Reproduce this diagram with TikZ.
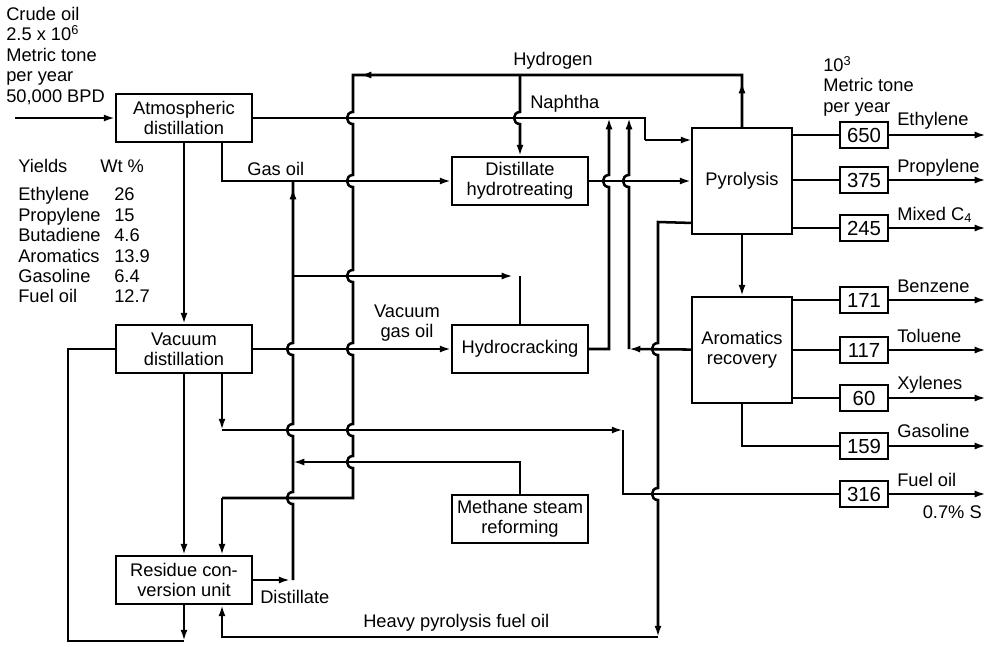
\documentclass[tikz,border=0pt]{standalone}
\usepackage{fontspec}
\setmainfont{Liberation Sans}
\usetikzlibrary{arrows.meta, positioning}

% vertical line jumping over a horizontal one at (#1,#2)
\newcommand{\hopdn}[2]{-- (#1,#2-6) .. controls (#1-8,#2-6) and (#1-8,#2+6) .. (#1,#2+6)}
\newcommand{\hopup}[2]{-- (#1,#2+6) .. controls (#1-8,#2+6) and (#1-8,#2-6) .. (#1,#2-6)}

\begin{document}
\begin{tikzpicture}[
        x=0.025cm, y=-0.025cm, % pixel grid, y downwards
        every node/.style={font=\fontsize{13}{14.5}\selectfont},
        unit/.style={draw, line width=1.3pt, align=center, minimum width=3.4cm, minimum height=1.2cm, inner sep=1pt},
        prod/.style={draw, line width=1.3pt, minimum width=1.2cm, minimum height=0.65cm, inner sep=0pt, font=\fontsize{14.5}{16}\selectfont},
        lbl/.style={inner sep=0pt, align=left},
        flow/.style={line width=1.8pt},
        arr/.style={flow, -{Latex[length=8pt, width=5pt]}}
    ]
        \useasboundingbox (0,0) rectangle (991,646);

        % Process units
        \node[unit] (atm) at (184,118) {Atmospheric\\distillation};
        \node[unit] (vac) at (184,349) {Vacuum\\distillation};
        \node[unit] (res) at (184,580) {Residue con-\\version unit};
        \node[unit] (hdt) at (520,181) {Distillate\\hydrotreating};
        \node[unit] (hcr) at (520,349) {Hydrocracking};
        \node[unit] (msr) at (520,519) {Methane steam\\reforming};
        \node[unit, minimum width=2.5cm, minimum height=2.65cm] (pyro) at (742,181) {Pyrolysis};
        \node[unit, minimum width=2.5cm, minimum height=2.65cm] (aro) at (742,350) {Aromatics\\recovery};

        % Product boxes
        \node[prod] (p650) at (864,135) {650};
        \node[prod] (p375) at (864,180) {375};
        \node[prod] (p245) at (864,228) {245};
        \node[prod] (p171) at (864,300) {171};
        \node[prod] (p117) at (864,350) {117};
        \node[prod] (p60)  at (864,398) {60};
        \node[prod] (p159) at (864,446) {159};
        \node[prod] (p316) at (864,494) {316};

        % Texts
        \node[lbl, anchor=north west] (crude) at (6,7) {Crude oil\\2.5 x 10\textsuperscript{6}\\Metric tone\\per year\\50,000 BPD};
        \node[lbl, anchor=base west] (yields) at (18,172) {\begin{tabular}[t]{@{}p{2.4cm}@{}l@{}}
            Yields & \hspace{-0.35cm}Wt \%\\[6pt]
            Ethylene & 26\\ Propylene & 15\\ Butadiene & 4.6\\
            Aromatics & 13.9\\ Gasoline & 6.4\\ Fuel oil & 12.7
        \end{tabular}};
        \node[lbl, anchor=north west] (rate) at (823,56) {10\textsuperscript{3}\\Metric tone\\per year};
        \node[lbl, anchor=base west] (tHyd) at (513,65) {Hydrogen};
        \node[lbl, anchor=base west] (tNap) at (530,108) {Naphtha};
        \node[lbl, anchor=base west] (tGo) at (247,175) {Gas oil};
        \node[lbl, align=center, anchor=south] (tVgo) at (407,342) {Vacuum\\gas oil};
        \node[lbl, anchor=base west] (tDis) at (260,603) {Distillate};
        \node[lbl, anchor=base west] (tHpf) at (363,627) {Heavy pyrolysis fuel oil};
        \node[lbl, anchor=base west] (tEth) at (897,125) {Ethylene};
        \node[lbl, anchor=base west] (tPro) at (897,172) {Propylene};
        \node[lbl, anchor=base west] (tC4) at (897,220) {Mixed C\textsubscript{4}};
        \node[lbl, anchor=base west] (tBen) at (897,292) {Benzene};
        \node[lbl, anchor=base west] (tTol) at (897,342) {Toluene};
        \node[lbl, anchor=base west] (tXyl) at (897,389) {Xylenes};
        \node[lbl, anchor=base west] (tGas) at (897,437) {Gasoline};
        \node[lbl, anchor=base west] (tFue) at (897,486) {Fuel oil};
        \node[lbl, anchor=base east] (tSul) at (982,518) {0.7\% S};

        % Define coordinates
        \coordinate (feed) at (15,118);
        \coordinate (nap1) at (645,118); \coordinate (nap2) at (645,140); \coordinate (pyin) at (692,140);
        \coordinate (go2) at (222,181);
        \coordinate (h1) at (742,75); \coordinate (h2) at (353,75); \coordinate (hb) at (520,75);
        \coordinate (h3) at (353,498); \coordinate (h4) at (222,498);
        \coordinate (d1) at (293,580); \coordinate (d2) at (293,181);
        \coordinate (d3) at (293,276); \coordinate (d4) at (520,276);
        \coordinate (f2) at (222,430); \coordinate (f3) at (623,430); \coordinate (f4) at (623,494);
        \coordinate (c1) at (609,349); \coordinate (c2) at (609,118);
        \coordinate (r1) at (629,349); \coordinate (r2) at (629,118);
        \coordinate (pf1) at (658,222); \coordinate (pf2) at (658,637); \coordinate (pf3) at (222,637);
        \coordinate (m1) at (520,462); \coordinate (m2) at (293,462);
        \coordinate (v1) at (68,349); \coordinate (v2) at (68,641); \coordinate (v3) at (184,641);

        % Crude and atmospheric cuts
        \draw[arr] (feed) -- (atm);
        \draw[flow] (atm.east) -- (nap1) -- (nap2);
        \draw[arr] (nap2) -- (pyin);
        \draw[arr] (atm.south -| go2) -- (go2) -- (hdt);
        \draw[arr] (atm) -- (vac);
        \draw[arr] (hdt) -- (pyro);

        % Hydrogen
        \draw[flow] (pyro.north) -- (h1) -- (h2) \hopdn{353}{118} \hopdn{353}{181} \hopdn{353}{276}
            \hopdn{353}{349} \hopdn{353}{430} \hopdn{353}{462} -- (h3) -- (h4);
        \draw[arr, shorten >=5pt] (pyro.north) -- (h1);
        \draw[arr, shorten >=5pt] (h1) -- (h2);
        \draw[arr] (h4) -- (h4 |- res.north);
        \draw[arr] (hb) \hopdn{520}{118} -- (hdt);

        % Vacuum section
        \draw[arr] (vac) -- (hcr);
        \draw[arr] (vac) -- (res);
        \draw[flow] (vac) -- (v1) -- (v2) -- (v3);
        \draw[arr] (res) -- (v3);
        \draw[arr] (vac.south -| f2) -- (f2);
        \draw[arr] (f2) -- (f3);
        \draw[flow] (f3) -- (f4) -- (p316);

        % Distillate
        \draw[arr, shorten >=2pt] (res.east |- d1) -- (d1);
        \draw[flow] (d1) \hopup{293}{498} \hopup{293}{430} \hopup{293}{349} -- (d2);
        \draw[arr, shorten >=5pt] (d3) -- (d2);
        \draw[arr, shorten >=5pt] (d3) -- (d4);
        \draw[flow] (d4) -- (hcr);
        \draw[arr] (msr) -- (m1) -- (m2);

        % Recycles to naphtha
        \draw[arr] (hcr) -- (c1) \hopup{609}{181} -- (c2);
        \draw[arr] (aro) -- (r1);
        \draw[arr] (r1) \hopup{629}{181} -- (r2);

        % Heavy pyrolysis fuel oil
        \draw[arr] ([yshift=0.3cm]pyro.south west) -- (pf1) \hopdn{658}{349} \hopdn{658}{494} -- (pf2);
        \draw[arr] (pf2) -- (pf3) -- (pf3 |- res.south);
        \draw[arr] (pyro) -- (aro);

        % Products
        \draw[flow] (pyro.east |- p650) -- (p650);
        \draw[flow] (pyro.east |- p375) -- (p375);
        \draw[flow] (pyro.east |- p245) -- (p245);
        \draw[flow] (aro.east |- p171) -- (p171);
        \draw[flow] (aro.east |- p117) -- (p117);
        \draw[flow] (aro.east |- p60) -- (p60);
        \draw[flow] (aro.south) |- (p159);
        \draw[arr] (p650.east) -- ++(97,0);
        \draw[arr] (p375.east) -- ++(97,0);
        \draw[arr] (p245.east) -- ++(97,0);
        \draw[arr] (p171.east) -- ++(97,0);
        \draw[arr] (p117.east) -- ++(97,0);
        \draw[arr] (p60.east) -- ++(97,0);
        \draw[arr] (p159.east) -- ++(97,0);
        \draw[arr] (p316.east) -- ++(97,0);

    \end{tikzpicture}
\end{document}
